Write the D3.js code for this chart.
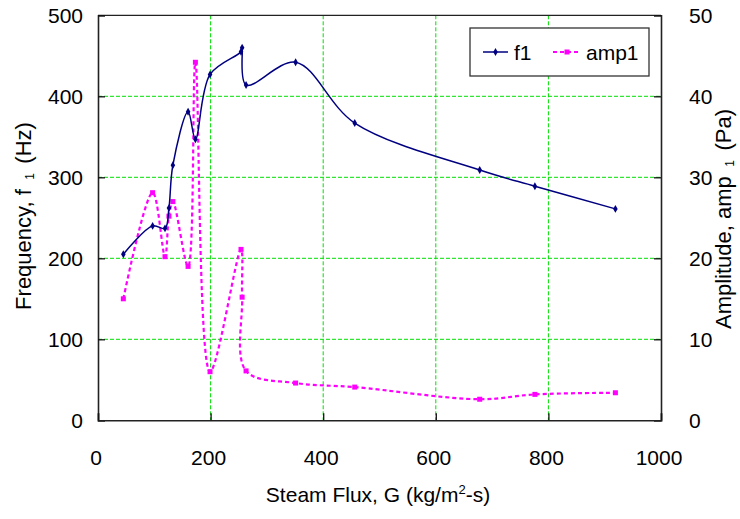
<!DOCTYPE html>
<html><head><meta charset="utf-8">
<script src="https://cdn.jsdelivr.net/npm/d3@7"></script>
<style>
html,body{margin:0;padding:0;background:#fff;}
text{font-family:"Liberation Sans",Arial,sans-serif;fill:#000;}
</style></head>
<body>
<svg id="chart" width="740" height="519"></svg>
<script>
// Data
const steamFlux = [45, 97, 119, 126, 133, 160, 173, 199, 254, 256, 263, 351, 456, 678, 776, 919];
const f1Values  = [205, 240, 237, 262, 315, 381, 347, 427, 455, 460, 414, 442, 367, 309, 289, 261];
const amp1Values = [15, 28.1, 20.2, 25.2, 27, 19, 44.2, 6, 21.1, 15.2, 6.1, 4.6, 4.1, 2.6, 3.2, 3.4];
const xTicks = [0, 200, 400, 600, 800, 1000];
const yLeftTicks = [0, 100, 200, 300, 400, 500];
const yRightTicks = [0, 10, 20, 30, 40, 50];
const seriesNames = ["f1", "amp1"];

const svg = d3.select("#chart");
const L = 98, R = 661, T = 15.3, B = 420.3;
const x = d3.scaleLinear().domain([0, 1000]).range([L, R]);
const yL = d3.scaleLinear().domain([0, 500]).range([B, T]);
const yR = d3.scaleLinear().domain([0, 50]).range([B, T]);
const fs = 21, tfs = 22;
const navy = "#000080", mag = "#ff00ff", grid = "#00e000";
const NB = "\u00a0";

// gridlines
const g = svg.append("g");
g.selectAll(".hg").data(yLeftTicks.filter(d => d > 0 && d < 500)).enter().append("line")
  .attr("x1", L).attr("x2", R).attr("y1", d => yL(d)).attr("y2", d => yL(d))
  .attr("stroke", grid).attr("stroke-width", 1).attr("stroke-dasharray", "4,2");
g.selectAll(".vg").data(xTicks.filter(d => d > 0 && d < 1000)).enter().append("line")
  .attr("y1", T).attr("y2", B).attr("x1", d => x(d)).attr("x2", d => x(d))
  .attr("stroke", grid).attr("stroke-width", 1).attr("stroke-dasharray", "4,2");

// frame
svg.append("line").attr("x1", L).attr("x2", R).attr("y1", T).attr("y2", T).attr("stroke", "#222").attr("stroke-width", 1.2);

// axes with inward ticks
const axL = svg.append("g").attr("transform", `translate(${L},0)`)
  .call(d3.axisRight(yL).tickValues(yLeftTicks).tickSize(7).tickFormat(""));
const axR = svg.append("g").attr("transform", `translate(${R},0)`)
  .call(d3.axisLeft(yR).tickValues(yRightTicks).tickSize(7).tickFormat(""));
const axB = svg.append("g").attr("transform", `translate(0,${B})`)
  .call(d3.axisTop(x).tickValues(xTicks).tickSize(7).tickFormat(""));
[axL, axR, axB].forEach(a => {
  a.select(".domain").attr("stroke", "#222").attr("stroke-width", 1.6);
  a.selectAll(".tick line").attr("stroke", "#111").attr("stroke-width", 1.3);
});

// tick labels
svg.append("g").selectAll("text").data(yLeftTicks).enter().append("text")
  .attr("x", 83).attr("y", d => yL(d)).attr("dy", "0.36em").attr("text-anchor", "end")
  .attr("font-size", fs).text(d => d);
svg.append("g").selectAll("text").data(yRightTicks).enter().append("text")
  .attr("x", 689).attr("y", d => yR(d)).attr("dy", "0.36em").attr("text-anchor", "start")
  .attr("font-size", fs).text(d => d);
svg.append("g").selectAll("text").data(xTicks).enter().append("text")
  .attr("x", d => x(d) - 2).attr("y", 465).attr("text-anchor", "middle")
  .attr("font-size", fs).text(d => d);

// axis titles
const xt = svg.append("text").attr("x", 378).attr("y", 502).attr("text-anchor", "middle").attr("font-size", fs);
xt.append("tspan").text("Steam Flux, G (kg/m");
xt.append("tspan").attr("font-size", 13).attr("dy", -8).text("2");
xt.append("tspan").attr("dy", 8).text("-s)");

const lt = svg.append("text").attr("transform", "translate(31,216) rotate(-90)").attr("text-anchor", "middle").attr("font-size", tfs);
lt.append("tspan").text("Frequency, f" + NB);
lt.append("tspan").attr("font-size", 12).attr("dy", 3).text(NB + "1" + NB);
lt.append("tspan").attr("dy", -3).text(NB + "(Hz)");

const rt = svg.append("text").attr("transform", "translate(731,219) rotate(-90)").attr("text-anchor", "middle").attr("font-size", tfs);
rt.append("tspan").text("Amplitude, amp" + NB);
rt.append("tspan").attr("font-size", 12).attr("dy", 3).text(NB + "1" + NB);
rt.append("tspan").attr("dy", -3).text(NB + "(Pa)");

// series
const f1Data = steamFlux.map((d, i) => [d, f1Values[i]]);
const ampData = steamFlux.map((d, i) => [d, amp1Values[i]]);
const curve = d3.curveCatmullRom.alpha(0.5);

svg.append("path").datum(ampData)
  .attr("d", d3.line().x(d => x(d[0])).y(d => yR(d[1])).curve(curve))
  .attr("fill", "none").attr("stroke", mag).attr("stroke-width", 2.2).attr("stroke-dasharray", "4,3");
svg.append("g").selectAll("rect").data(ampData).enter().append("rect")
  .attr("x", d => x(d[0]) - 2.5).attr("y", d => yR(d[1]) - 2.5).attr("width", 5).attr("height", 5).attr("fill", mag);

svg.append("path").datum(f1Data)
  .attr("d", d3.line().x(d => x(d[0])).y(d => yL(d[1])).curve(curve))
  .attr("fill", "none").attr("stroke", navy).attr("stroke-width", 1.5);
svg.append("g").selectAll("path").data(f1Data).enter().append("path")
  .attr("transform", d => `translate(${x(d[0])},${yL(d[1])})`)
  .attr("d", d3.symbol().type(d3.symbolDiamond).size(18)).attr("fill", navy);

// legend
const lg = svg.append("g");
lg.append("rect").attr("x", 470).attr("y", 28).attr("width", 179).attr("height", 48)
  .attr("fill", "#fff").attr("stroke", "#333").attr("stroke-width", 1.3);
lg.append("line").attr("x1", 483).attr("x2", 508).attr("y1", 52).attr("y2", 52).attr("stroke", navy).attr("stroke-width", 1.5);
lg.append("path").attr("transform", "translate(495.5,52)").attr("d", d3.symbol().type(d3.symbolDiamond).size(18)).attr("fill", navy);
lg.append("text").attr("x", 514).attr("y", 52).attr("dy", "0.36em").attr("font-size", fs).text(seriesNames[0]);
lg.append("line").attr("x1", 553).attr("x2", 581).attr("y1", 52).attr("y2", 52).attr("stroke", mag).attr("stroke-width", 2.2).attr("stroke-dasharray", "4,3");
lg.append("rect").attr("x", 564.5).attr("y", 49.5).attr("width", 5).attr("height", 5).attr("fill", mag);
lg.append("text").attr("x", 586).attr("y", 52).attr("dy", "0.36em").attr("font-size", fs).text(seriesNames[1]);
</script>
</body></html>
